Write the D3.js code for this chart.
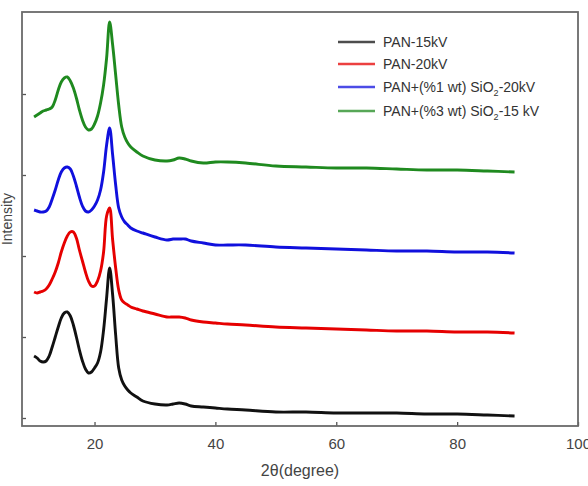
<!DOCTYPE html>
<html>
<head>
<meta charset="utf-8">
<script src="https://cdn.jsdelivr.net/npm/d3@7"></script>
<style>
  body { margin: 0; background: #fff; }
  text { font-family: "Liberation Sans", Arial, sans-serif; }
</style>
</head>
<body>
<script>

const svgWidth = 588;
const svgHeight = 486;

const margin = { top: 12, right: 10, bottom: 60, left: 22 };

const chartWidth = svgWidth - margin.left - margin.right;
const chartHeight = svgHeight - margin.top - margin.bottom;

// Data: 2theta positions shared by all patterns
var angles = [10, 10.5, 11, 11.5, 12, 12.5, 13, 13.5, 14, 14.5, 15, 15.5, 16, 16.5, 17, 17.5,
  18, 18.5, 19, 19.5, 20, 20.5, 21, 21.5, 22, 22.5, 23, 23.5, 24, 24.5, 25, 25.5, 26,
  27, 28, 30, 32, 33, 34, 35, 36, 38, 40, 42, 45, 50, 55, 60, 65, 70, 75, 80, 85, 89.5];

// intensities (a.u., stacked)
var pan15 = [62, 60, 57, 56, 57, 62, 71, 81, 91, 100, 105, 106, 102, 93, 81, 68,
  57, 49, 45, 46, 50, 55, 66, 88, 120, 150, 123, 83, 50, 38, 32, 28, 25,
  21, 17, 14, 13, 14, 15, 14, 12, 11, 10, 9, 8, 6, 6, 5, 5, 5, 4, 4, 3, 2];
var pan20 = [126, 125, 126, 127, 129, 133, 139, 146, 155, 166, 175, 182, 186, 186, 180, 168,
  157, 146, 137, 132, 132, 137, 147, 166, 202, 210, 178, 150, 128, 118, 115, 113, 111,
  109, 107, 104, 101, 101, 101, 100, 98, 96, 95, 94, 93, 91, 90, 89, 88, 87, 87, 86, 86, 85];
var sio2_1 = [208, 207, 206, 206, 207, 211, 219, 228, 238, 246, 250, 251, 249, 242, 232, 221,
  212, 207, 206, 208, 212, 218, 228, 246, 273, 290, 263, 233, 210, 201, 196, 193, 190,
  187, 185, 181, 178, 179, 179, 179, 177, 175, 173, 173, 173, 171, 170, 169, 168, 167, 167, 166, 166, 165];
var sio2_3 = [301, 303, 305, 307, 308, 309, 311, 318, 328, 336, 340, 341, 337, 330, 320, 308,
  298, 291, 288, 289, 294, 302, 315, 333, 360, 396, 373, 343, 313, 291, 281, 275, 271,
  266, 262, 258, 257, 258, 260, 259, 257, 255, 256, 256, 255, 252, 251, 250, 250, 249, 248, 248, 247, 246];

var seriesNames = ["PAN-15kV", "PAN-20kV", "PAN+(%1 wt) SiO2-20kV", "PAN+(%3 wt) SiO2-15 kV"];
var seriesValues = [pan15, pan20, sio2_1, sio2_3];
var seriesColors = ["#111111", "#e60000", "#1010dd", "#1f8a1f"];

var xTicks = [20, 40, 60, 80, 100];
var yTicks = [0, 81, 162, 243, 324];

const svg = d3.select("body")
  .append("svg")
  .attr("width", svgWidth)
  .attr("height", svgHeight);

const chartGroup = svg.append("g")
  .attr("transform", `translate(${margin.left}, ${margin.top})`);

const xScale = d3.scaleLinear()
  .domain([8, 100])
  .range([0, chartWidth]);

const yScale = d3.scaleLinear()
  .domain([-8, 406])
  .range([chartHeight, 0]);

// curves
const line = d3.line()
  .x(d => xScale(d[0]))
  .y(d => yScale(d[1]))
  .curve(d3.curveCatmullRom.alpha(0.5));

seriesValues.forEach((vals, i) => {
  chartGroup.append("path")
    .datum(angles.map((a, j) => [a, vals[j]]))
    .attr("fill", "none")
    .attr("stroke", seriesColors[i])
    .attr("stroke-width", 2.9)
    .attr("stroke-linejoin", "round")
    .attr("d", line);
});

// axes, ticks pointing inward
const xAxis = d3.axisBottom(xScale)
  .tickValues(xTicks)
  .tickSizeInner(-4)
  .tickSizeOuter(0)
  .tickPadding(12);

const yAxis = d3.axisLeft(yScale)
  .tickValues(yTicks)
  .tickSizeInner(-4)
  .tickSizeOuter(0)
  .tickFormat("");

const gx = chartGroup.append("g")
  .attr("transform", `translate(0, ${chartHeight})`)
  .call(xAxis);
gx.select(".domain").remove();
gx.selectAll("line").attr("stroke", "#555").attr("stroke-width", 1.3);
gx.selectAll("text")
  .attr("fill", "#444")
  .style("font-size", "15px")
  .style("font-family", "Liberation Sans, Arial, sans-serif");

const gy = chartGroup.append("g").call(yAxis);
gy.select(".domain").remove();
gy.selectAll("line").attr("stroke", "#555").attr("stroke-width", 1.3);

// frame
chartGroup.append("rect")
  .attr("x", 0)
  .attr("y", 0)
  .attr("width", chartWidth)
  .attr("height", chartHeight)
  .attr("fill", "none")
  .attr("stroke", "#6a6a6a")
  .attr("stroke-width", 1.8);

// axis titles
svg.append("text")
  .attr("x", margin.left + chartWidth / 2)
  .attr("y", 476)
  .attr("text-anchor", "middle")
  .attr("fill", "#444")
  .style("font-size", "16px")
  .text("2θ(degree)");

svg.append("text")
  .attr("transform", `translate(12, ${margin.top + chartHeight / 2}) rotate(-90)`)
  .attr("text-anchor", "middle")
  .attr("fill", "#444")
  .style("font-size", "14px")
  .text("Intensity");

// legend
const legend = svg.append("g");
const legendY = [42, 64, 87, 111];

seriesNames.forEach((name, i) => {
  const row = legend.append("g")
    .attr("transform", `translate(338, ${legendY[i]})`);
  row.append("line")
    .attr("x1", 0)
    .attr("x2", 37)
    .attr("stroke", seriesColors[i])
    .attr("stroke-opacity", 0.75)
    .attr("stroke-width", 2.5);
  const t = row.append("text")
    .attr("x", 45)
    .attr("dy", "0.35em")
    .attr("fill", "#333")
    .style("font-size", "14px");
  if (name.includes("SiO2")) {
    const parts = name.split("SiO2");
    t.append("tspan").text(parts[0] + "SiO");
    t.append("tspan").attr("dy", 4).style("font-size", "9px").text("2");
    t.append("tspan").attr("dy", -4).text(parts[1]);
  } else {
    t.text(name);
  }
});

</script>
</body>
</html>
